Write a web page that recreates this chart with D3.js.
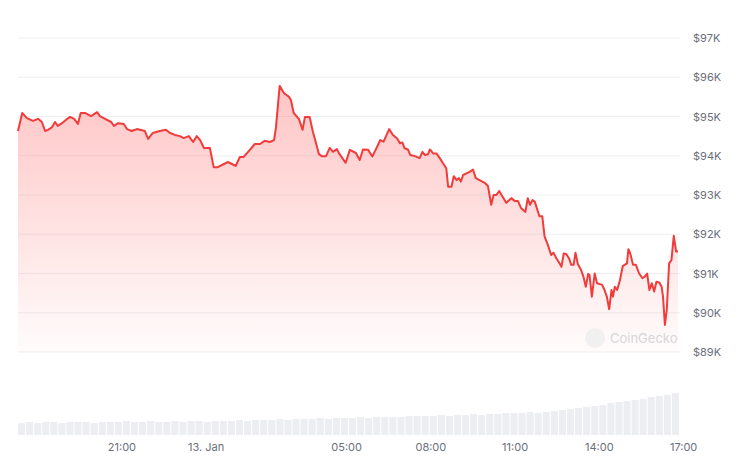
<!DOCTYPE html>
<html><head><meta charset="utf-8">
<script src="https://cdn.jsdelivr.net/npm/d3@7"></script>
<style>body{margin:0;background:#fff}svg{font-family:Inter,"Noto Sans",sans-serif}</style>
</head><body><svg id="c" width="740" height="467"></svg>
<script>
// minutes since 2025-01-12 17:18
const minutes=[0,9,19,32,43,51,58,64,73,79,85,94,102,111,120,128,134,143,156,169,175,186,199,205,214,226,233,243,254,271,278,288,303,316,325,335,346,354,365,374,382,389,397,410,418,427,440,448,457,465,474,482,493,506,517,527,538,547,551,559,568,579,583,589,600,608,613,623,630,636,643,649,658,666,673,681,687,700,709,722,
730,737,748,757,764,774,781,793,801,810,816,821,826,833,838,848,858,864,869,876,880,887,894,901,908,915,919,926,931,937,942,946,951,958,965,972,978,986,997,1004,1011,1016,1022,1028,1033,1043,1054,1061,1068,1075,1084,1089,1094,1099,1104,1114,1120,1125,1132,1139,1144,1150,1157,1161,1166,1171,1177,1182,1187,1191,1196,1203,1208,1213,1218,1221,1226,1232,1237,1243,1248,1253,1258,1263,1268,1271,1275,1280,1286,1292,1301,1304,1308,1314,1320,1327,1334,1339,1344,1349,1354,1359,1364,1370,1375,1378,1382,1386,1391,1396,1401,1406,1410];
const prices=[94.63,95.09,94.96,94.89,94.94,94.86,94.63,94.66,94.73,94.86,94.76,94.83,94.91,94.99,94.94,94.81,95.09,95.09,95.01,95.11,95.01,94.94,94.86,94.76,94.83,94.81,94.68,94.63,94.68,94.63,94.43,94.58,94.63,94.66,94.58,94.53,94.50,94.45,94.50,94.35,94.50,94.40,94.20,94.20,93.71,93.71,93.79,93.84,93.79,93.74,93.97,93.97,94.12,94.30,94.30,94.38,94.35,94.40,94.71,95.78,95.60,95.50,95.42,95.09,94.94,94.66,94.99,94.99,94.61,94.35,94.04,93.99,93.99,94.20,94.10,94.17,94.04,93.82,94.15,94.07,
93.89,94.16,94.15,93.98,94.15,94.40,94.36,94.68,94.53,94.44,94.32,94.34,94.19,94.16,94.02,93.99,93.94,94.10,94.02,94.04,94.16,94.06,94.06,93.94,93.81,93.68,93.21,93.21,93.48,93.38,93.43,93.34,93.51,93.55,93.59,93.65,93.43,93.38,93.31,93.23,92.75,93.00,93.00,93.10,93.00,92.80,92.92,92.85,92.85,92.66,92.57,92.92,92.75,92.87,92.83,92.46,92.46,91.94,91.73,91.47,91.53,91.39,91.26,91.17,91.51,91.50,91.39,91.22,91.22,91.53,91.24,91.09,90.92,90.66,90.99,90.96,90.41,91.00,90.75,90.73,90.71,90.58,90.41,90.09,90.58,90.41,90.66,90.58,90.83,91.19,91.26,91.62,91.51,91.22,91.22,91.00,90.88,90.92,91.00,90.58,90.75,90.54,90.79,90.77,90.66,90.41,89.69,90.07,91.26,91.34,91.96,91.56,91.56];
// volume (relative), one bar per 8 minutes
const volumes=[12,13,12,13,13,12,13,13,13,12,13,13,13,14,13,13,14,13,13,14,13,14,14,13,14,14,14,15,14,15,15,15,16,15,16,16,16,17,16,17,17,17,18,17,18,18,18,18,19,19,19,19,20,19,20,20,21,20,21,21,22,22,22,23,22,23,24,25,26,27,28,29,30,32,33,34,35,36,38,39,40,42];
const priceTicks=[89,90,91,92,93,94,95,96,97];
const timeTicks=[["2025-01-12T21:00","21:00"],["2025-01-13T00:00","13. Jan"],["2025-01-13T05:00","05:00"],["2025-01-13T08:00","08:00"],["2025-01-13T11:00","11:00"],["2025-01-13T14:00","14:00"],["2025-01-13T17:00","17:00"]];

const svg=d3.select("#c");
const t0=new Date("2025-01-12T17:18");
const data=minutes.map((m,i)=>({t:new Date(+t0+m*60000),p:prices[i]}));
const x=d3.scaleTime().domain([t0,new Date(+t0+1410*60000)]).range([18,678]);
const y=d3.scaleLinear().domain([89,97]).range([352,38]);

const defs=svg.append("defs");
const g=defs.append("linearGradient").attr("id","gr").attr("x1",0).attr("x2",0).attr("y1",0).attr("y2",1);
g.append("stop").attr("offset","0%").attr("stop-color","#ff5a5a").attr("stop-opacity",0.35);
g.append("stop").attr("offset","100%").attr("stop-color","#ff5a5a").attr("stop-opacity",0.02);

svg.append("g").selectAll("line").data(priceTicks).join("line")
 .attr("x1",18).attr("x2",680).attr("y1",d=>y(d)).attr("y2",d=>y(d)).attr("stroke","#efeff2");
svg.append("g").selectAll("text").data(priceTicks).join("text")
 .attr("x",693).attr("y",d=>y(d)+4).attr("font-size",11).attr("fill","#6b6f7b").text(d=>"$"+d+"K");

// volume
const bx=d3.scaleLinear().domain([0,volumes.length]).range([18,680]);
const vy=d3.scaleLinear().domain([0,42]).range([435,393]);
svg.append("g").selectAll("rect").data(volumes).join("rect")
 .attr("x",(d,i)=>bx(i)).attr("width",(bx(1)-bx(0))-1).attr("y",d=>vy(d)).attr("height",d=>435-vy(d)).attr("fill","#eceef2");

svg.append("path").datum(data).attr("fill","url(#gr)")
 .attr("d",d3.area().x(d=>x(d.t)).y0(352).y1(d=>y(d.p)));
svg.append("path").datum(data).attr("fill","none").attr("stroke","#f23b3b").attr("stroke-width",2).attr("stroke-linejoin","round")
 .attr("d",d3.line().x(d=>x(d.t)).y(d=>y(d.p)));

svg.append("g").selectAll("text").data(timeTicks).join("text")
 .attr("x",d=>x(new Date(d[0]))).attr("y",451).attr("text-anchor","middle").attr("font-size",11).attr("fill","#6b6f7b").text(d=>d[1]);

// watermark
svg.append("circle").attr("cx",595).attr("cy",338).attr("r",10).attr("fill","#eee").attr("opacity",0.8);
svg.append("text").attr("x",610).attr("y",343).attr("font-size",13).attr("fill","#d4d6da").text("CoinGecko");
</script></body></html>
